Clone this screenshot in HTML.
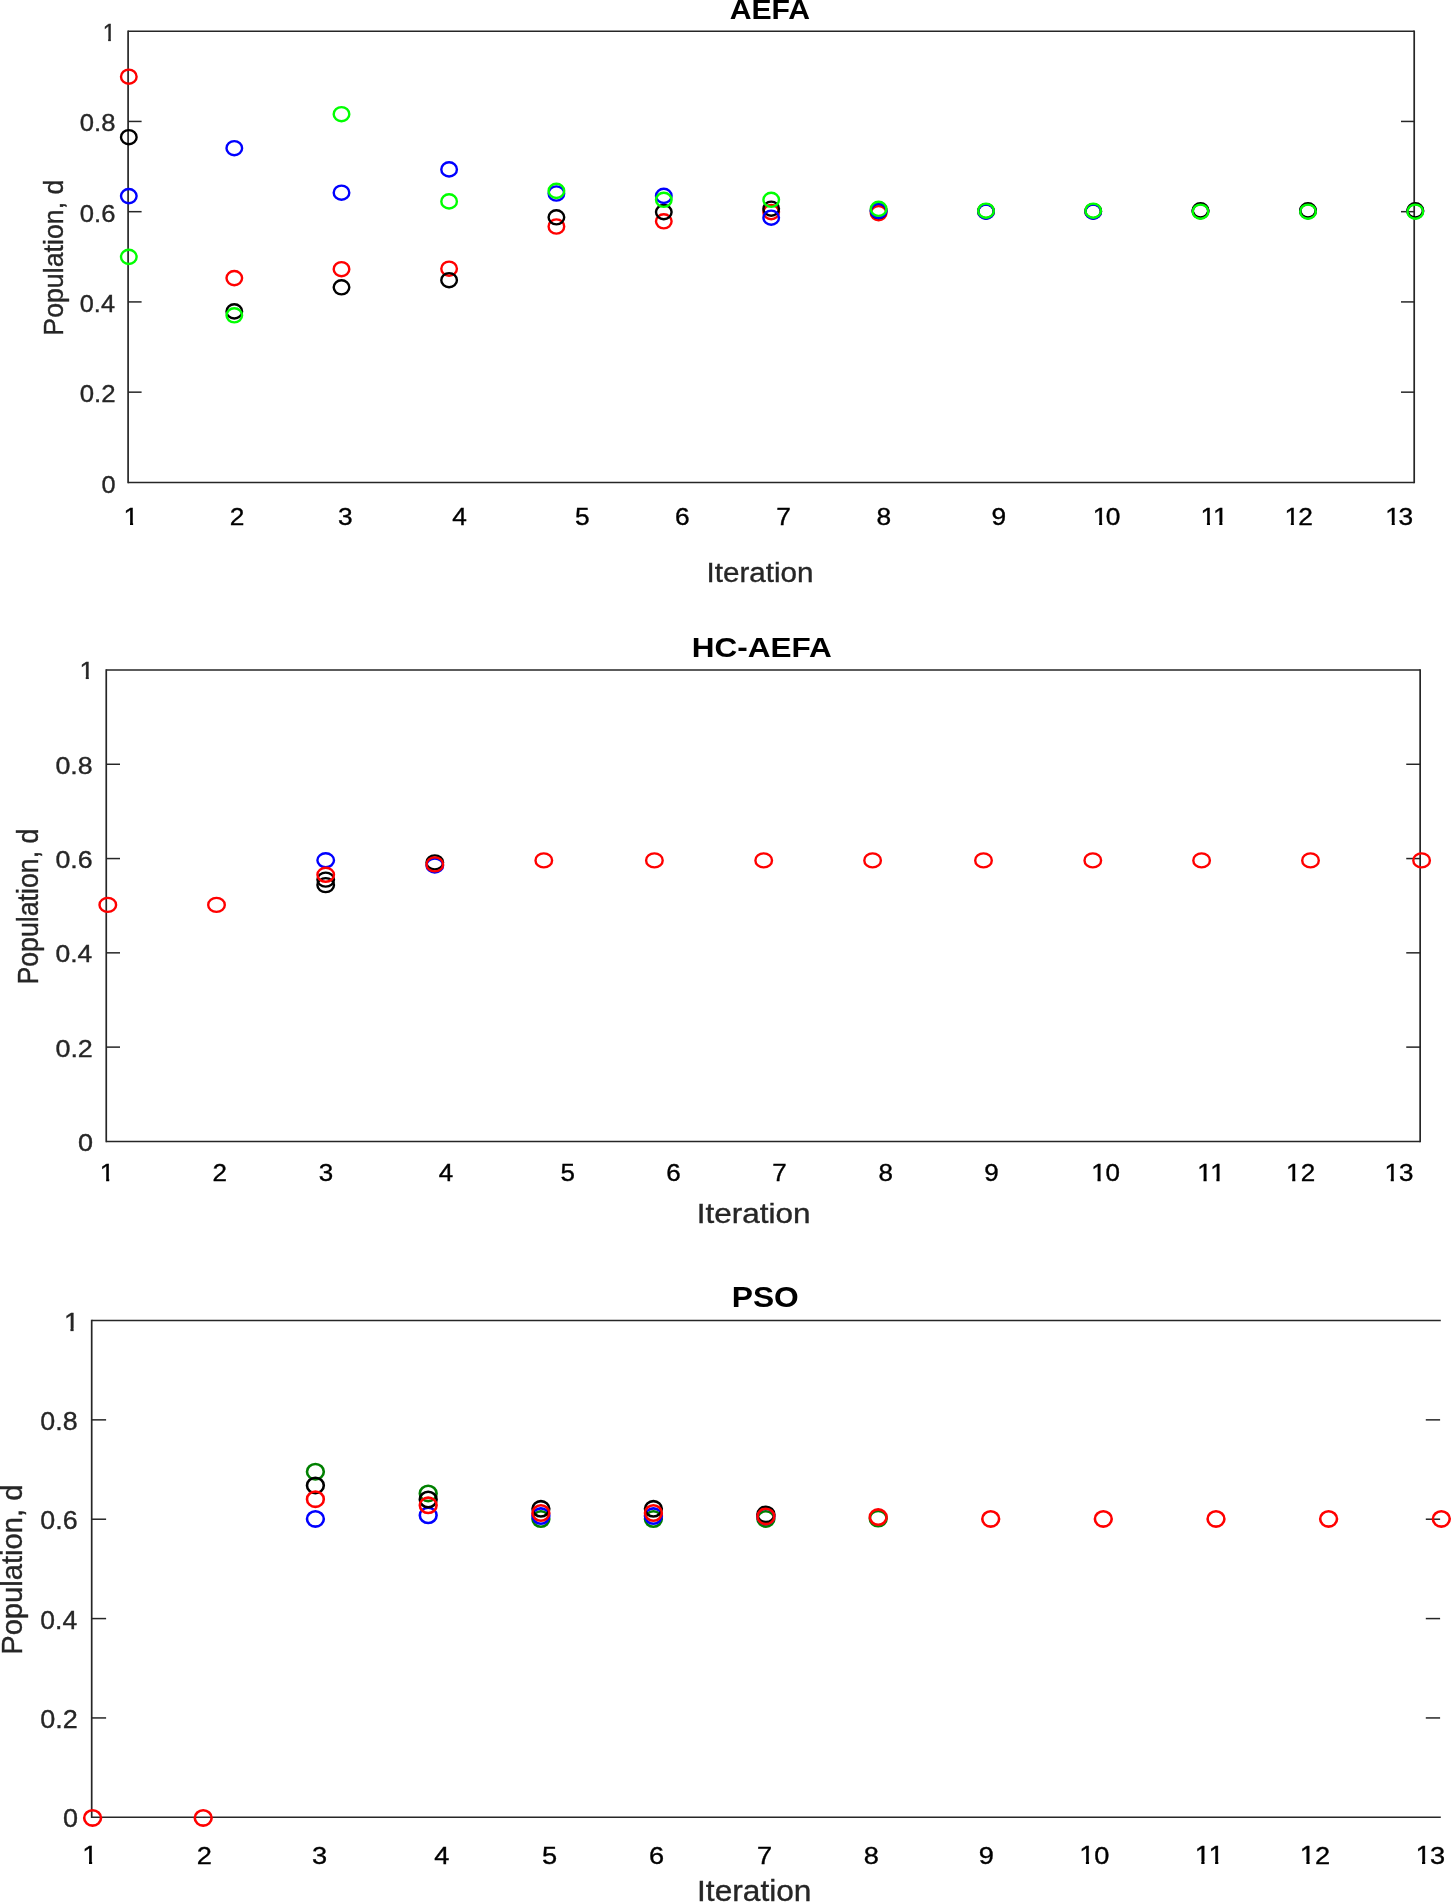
<!DOCTYPE html>
<html><head><meta charset="utf-8"><title>Population convergence</title>
<style>
html,body{margin:0;padding:0;background:#fff;}
body{width:1451px;height:1902px;overflow:hidden;font-family:"Liberation Sans",sans-serif;}
svg{display:block;font-family:"Liberation Sans",sans-serif;}
#wrap{width:1451px;height:1902px;will-change:transform;filter:opacity(1);}
</style></head><body>
<div id="wrap">
<svg width="1451" height="1902" viewBox="0 0 1451 1902">
<rect width="1451" height="1902" fill="#fff"/>
<defs>
<clipPath id="c1_23_28" clipPathUnits="userSpaceOnUse"><rect x="-2" y="-23.28" width="17.97" height="21.01"/><rect x="5.54" y="-2.37" width="2.67" height="2.87"/></clipPath>
<clipPath id="c1_23_97" clipPathUnits="userSpaceOnUse"><rect x="-2" y="-23.97" width="18.38" height="21.65"/><rect x="5.72" y="-2.42" width="2.73" height="2.92"/></clipPath>
<clipPath id="c1_23_46" clipPathUnits="userSpaceOnUse"><rect x="-2" y="-23.46" width="18.08" height="21.18"/><rect x="5.59" y="-2.38" width="2.69" height="2.88"/></clipPath>
<clipPath id="c1_25_98" clipPathUnits="userSpaceOnUse"><rect x="-2" y="-25.98" width="19.59" height="23.51"/><rect x="6.22" y="-2.57" width="2.91" height="3.07"/></clipPath>
<clipPath id="c1_24_99" clipPathUnits="userSpaceOnUse"><rect x="-2" y="-24.99" width="18.99" height="22.59"/><rect x="5.97" y="-2.50" width="2.82" height="3.00"/></clipPath>
</defs>
<g id="plot-aefa" aria-label="AEFA: Population, d versus Iteration">
<line x1="128.10" y1="31.20" x2="1414.20" y2="31.20" stroke="#262626" stroke-width="1.5"/>
<line x1="128.10" y1="482.40" x2="1414.20" y2="482.40" stroke="#262626" stroke-width="1.5"/>
<line x1="128.10" y1="30.45" x2="128.10" y2="483.15" stroke="#262626" stroke-width="1.7"/>
<line x1="1414.20" y1="30.45" x2="1414.20" y2="483.15" stroke="#262626" stroke-width="1.7"/>
<line x1="128.10" y1="121.44" x2="141.60" y2="121.44" stroke="#262626" stroke-width="1.5"/>
<line x1="1401.00" y1="121.44" x2="1414.20" y2="121.44" stroke="#262626" stroke-width="1.5"/>
<line x1="128.10" y1="211.68" x2="141.60" y2="211.68" stroke="#262626" stroke-width="1.5"/>
<line x1="1401.00" y1="211.68" x2="1414.20" y2="211.68" stroke="#262626" stroke-width="1.5"/>
<line x1="128.10" y1="301.92" x2="141.60" y2="301.92" stroke="#262626" stroke-width="1.5"/>
<line x1="1401.00" y1="301.92" x2="1414.20" y2="301.92" stroke="#262626" stroke-width="1.5"/>
<line x1="128.10" y1="392.16" x2="141.60" y2="392.16" stroke="#262626" stroke-width="1.5"/>
<line x1="1401.00" y1="392.16" x2="1414.20" y2="392.16" stroke="#262626" stroke-width="1.5"/>
<text transform="translate(79.78,131.44) scale(1.0676,1)" font-size="24.0" fill="#262626" stroke="#262626" stroke-width="0.35">0.8</text>
<text transform="translate(79.78,221.68) scale(1.0676,1)" font-size="24.0" fill="#262626" stroke="#262626" stroke-width="0.35">0.6</text>
<text transform="translate(79.79,311.92) scale(1.0555,1)" font-size="24.0" fill="#262626" stroke="#262626" stroke-width="0.35">0.4</text>
<text transform="translate(79.77,402.16) scale(1.0737,1)" font-size="24.0" fill="#262626" stroke="#262626" stroke-width="0.35">0.2</text>
<text transform="translate(102.63,40.90) scale(1.0000,1)" font-size="23.28" fill="#262626" stroke="#262626" stroke-width="0.35" clip-path="url(#c1_23_28)">1</text>
<text transform="translate(101.39,492.60) scale(1.0558,1)" font-size="24.0" fill="#262626" stroke="#262626" stroke-width="0.35">0</text>
<text transform="translate(123.62,524.60) scale(1.1200,1)" font-size="23.97" fill="#000" stroke="#000" stroke-width="0.35" clip-path="url(#c1_23_97)">1</text>
<text transform="translate(229.80,524.60) scale(1.1200,1)" font-size="23.5" fill="#000" stroke="#000" stroke-width="0.35">2</text>
<text transform="translate(337.96,524.60) scale(1.1200,1)" font-size="23.5" fill="#000" stroke="#000" stroke-width="0.35">3</text>
<text transform="translate(452.36,524.60) scale(1.1200,1)" font-size="23.5" fill="#000" stroke="#000" stroke-width="0.35">4</text>
<text transform="translate(575.00,524.60) scale(1.1200,1)" font-size="23.5" fill="#000" stroke="#000" stroke-width="0.35">5</text>
<text transform="translate(675.00,524.60) scale(1.1200,1)" font-size="23.5" fill="#000" stroke="#000" stroke-width="0.35">6</text>
<text transform="translate(776.16,524.60) scale(1.1200,1)" font-size="23.5" fill="#000" stroke="#000" stroke-width="0.35">7</text>
<text transform="translate(876.50,524.60) scale(1.1200,1)" font-size="23.5" fill="#000" stroke="#000" stroke-width="0.35">8</text>
<text transform="translate(991.56,524.60) scale(1.1200,1)" font-size="23.5" fill="#000" stroke="#000" stroke-width="0.35">9</text>
<text transform="translate(1092.68,524.60) scale(1.1200,1)" font-size="23.97" fill="#000" stroke="#000" stroke-width="0.35" clip-path="url(#c1_23_97)">1</text>
<text transform="translate(1105.73,524.60) scale(1.1200,1)" font-size="23.5" fill="#000" stroke="#000" stroke-width="0.35">0</text>
<text transform="translate(1200.52,524.60) scale(1.1200,1)" font-size="23.97" fill="#000" stroke="#000" stroke-width="0.35" clip-path="url(#c1_23_97)">1</text>
<text transform="translate(1212.92,524.60) scale(1.1200,1)" font-size="23.97" fill="#000" stroke="#000" stroke-width="0.35" clip-path="url(#c1_23_97)">1</text>
<text transform="translate(1284.42,524.60) scale(1.1200,1)" font-size="23.97" fill="#000" stroke="#000" stroke-width="0.35" clip-path="url(#c1_23_97)">1</text>
<text transform="translate(1298.16,524.60) scale(1.1200,1)" font-size="23.5" fill="#000" stroke="#000" stroke-width="0.35">2</text>
<text transform="translate(1385.32,524.60) scale(1.1200,1)" font-size="23.97" fill="#000" stroke="#000" stroke-width="0.35" clip-path="url(#c1_23_97)">1</text>
<text transform="translate(1398.56,524.60) scale(1.1200,1)" font-size="23.5" fill="#000" stroke="#000" stroke-width="0.35">3</text>
<text transform="translate(706.56,582.10) scale(1.0886,1)" font-size="27.2" fill="#262626" stroke="#262626" stroke-width="0.35">Iteration</text>
<text transform="translate(729.65,18.60) scale(1.1093,1)" font-size="27.2" font-weight="bold" fill="#000" stroke="#000" stroke-width="0">AEFA</text>
<text transform="translate(63.10,333.50) scale(1.035,1) rotate(-90)" x="-2.21" y="0" font-size="26.74" fill="#262626" stroke="#262626" stroke-width="0.35">Population, d</text>
<ellipse cx="128.8" cy="76.7" rx="7.8" ry="7.1" fill="none" stroke="#ff0000" stroke-width="2.4"/>
<ellipse cx="128.8" cy="137.2" rx="7.8" ry="7.1" fill="none" stroke="#000000" stroke-width="2.4"/>
<ellipse cx="128.8" cy="196.1" rx="7.8" ry="7.1" fill="none" stroke="#0000ff" stroke-width="2.4"/>
<ellipse cx="128.8" cy="256.9" rx="7.8" ry="7.1" fill="none" stroke="#00ff00" stroke-width="2.4"/>
<ellipse cx="234.3" cy="278.1" rx="7.8" ry="7.1" fill="none" stroke="#ff0000" stroke-width="2.4"/>
<ellipse cx="234.3" cy="311.4" rx="7.8" ry="7.1" fill="none" stroke="#000000" stroke-width="2.4"/>
<ellipse cx="234.3" cy="148.2" rx="7.8" ry="7.1" fill="none" stroke="#0000ff" stroke-width="2.4"/>
<ellipse cx="234.3" cy="315.3" rx="7.8" ry="7.1" fill="none" stroke="#00ff00" stroke-width="2.4"/>
<ellipse cx="341.5" cy="269.2" rx="7.8" ry="7.1" fill="none" stroke="#ff0000" stroke-width="2.4"/>
<ellipse cx="341.5" cy="287.3" rx="7.8" ry="7.1" fill="none" stroke="#000000" stroke-width="2.4"/>
<ellipse cx="341.5" cy="192.7" rx="7.8" ry="7.1" fill="none" stroke="#0000ff" stroke-width="2.4"/>
<ellipse cx="341.5" cy="114.2" rx="7.8" ry="7.1" fill="none" stroke="#00ff00" stroke-width="2.4"/>
<ellipse cx="449.1" cy="268.7" rx="7.8" ry="7.1" fill="none" stroke="#ff0000" stroke-width="2.4"/>
<ellipse cx="449.1" cy="280.2" rx="7.8" ry="7.1" fill="none" stroke="#000000" stroke-width="2.4"/>
<ellipse cx="449.1" cy="169.4" rx="7.8" ry="7.1" fill="none" stroke="#0000ff" stroke-width="2.4"/>
<ellipse cx="449.1" cy="201.4" rx="7.8" ry="7.1" fill="none" stroke="#00ff00" stroke-width="2.4"/>
<ellipse cx="556.4" cy="226.5" rx="7.8" ry="7.1" fill="none" stroke="#ff0000" stroke-width="2.4"/>
<ellipse cx="556.4" cy="217.3" rx="7.8" ry="7.1" fill="none" stroke="#000000" stroke-width="2.4"/>
<ellipse cx="556.4" cy="193.5" rx="7.8" ry="7.1" fill="none" stroke="#0000ff" stroke-width="2.4"/>
<ellipse cx="556.4" cy="190.9" rx="7.8" ry="7.1" fill="none" stroke="#00ff00" stroke-width="2.4"/>
<ellipse cx="663.8" cy="221.3" rx="7.8" ry="7.1" fill="none" stroke="#ff0000" stroke-width="2.4"/>
<ellipse cx="663.8" cy="212.1" rx="7.8" ry="7.1" fill="none" stroke="#000000" stroke-width="2.4"/>
<ellipse cx="663.8" cy="195.9" rx="7.8" ry="7.1" fill="none" stroke="#0000ff" stroke-width="2.4"/>
<ellipse cx="663.8" cy="199.8" rx="7.8" ry="7.1" fill="none" stroke="#00ff00" stroke-width="2.4"/>
<ellipse cx="771.2" cy="212.1" rx="7.8" ry="7.1" fill="none" stroke="#ff0000" stroke-width="2.4"/>
<ellipse cx="771.2" cy="208.7" rx="7.8" ry="7.1" fill="none" stroke="#000000" stroke-width="2.4"/>
<ellipse cx="771.2" cy="217.7" rx="7.8" ry="7.1" fill="none" stroke="#0000ff" stroke-width="2.4"/>
<ellipse cx="771.2" cy="199.8" rx="7.8" ry="7.1" fill="none" stroke="#00ff00" stroke-width="2.4"/>
<ellipse cx="878.6" cy="213.2" rx="7.8" ry="7.1" fill="none" stroke="#ff0000" stroke-width="2.4"/>
<ellipse cx="878.6" cy="211.0" rx="7.8" ry="7.1" fill="none" stroke="#000000" stroke-width="2.4"/>
<ellipse cx="878.6" cy="210.9" rx="7.8" ry="7.1" fill="none" stroke="#0000ff" stroke-width="2.4"/>
<ellipse cx="878.6" cy="208.8" rx="7.8" ry="7.1" fill="none" stroke="#00ff00" stroke-width="2.4"/>
<ellipse cx="986.0" cy="211.4" rx="7.8" ry="7.1" fill="none" stroke="#ff0000" stroke-width="2.4"/>
<ellipse cx="986.0" cy="211.2" rx="7.8" ry="7.1" fill="none" stroke="#000000" stroke-width="2.4"/>
<ellipse cx="986.0" cy="211.6" rx="7.8" ry="7.1" fill="none" stroke="#0000ff" stroke-width="2.4"/>
<ellipse cx="986.0" cy="210.7" rx="7.8" ry="7.1" fill="none" stroke="#00ff00" stroke-width="2.4"/>
<ellipse cx="1093.2" cy="211.4" rx="7.8" ry="7.1" fill="none" stroke="#ff0000" stroke-width="2.4"/>
<ellipse cx="1093.2" cy="211.2" rx="7.8" ry="7.1" fill="none" stroke="#000000" stroke-width="2.4"/>
<ellipse cx="1093.2" cy="211.6" rx="7.8" ry="7.1" fill="none" stroke="#0000ff" stroke-width="2.4"/>
<ellipse cx="1093.2" cy="210.7" rx="7.8" ry="7.1" fill="none" stroke="#00ff00" stroke-width="2.4"/>
<ellipse cx="1200.5" cy="211.2" rx="7.8" ry="7.1" fill="none" stroke="#ff0000" stroke-width="2.4"/>
<ellipse cx="1200.5" cy="211.2" rx="7.8" ry="7.1" fill="none" stroke="#0000ff" stroke-width="2.4"/>
<ellipse cx="1200.5" cy="210.3" rx="7.8" ry="7.1" fill="none" stroke="#000000" stroke-width="2.4"/>
<ellipse cx="1200.5" cy="211.7" rx="7.8" ry="7.1" fill="none" stroke="#00ff00" stroke-width="2.4"/>
<ellipse cx="1308.0" cy="211.2" rx="7.8" ry="7.1" fill="none" stroke="#ff0000" stroke-width="2.4"/>
<ellipse cx="1308.0" cy="211.2" rx="7.8" ry="7.1" fill="none" stroke="#0000ff" stroke-width="2.4"/>
<ellipse cx="1308.0" cy="210.3" rx="7.8" ry="7.1" fill="none" stroke="#000000" stroke-width="2.4"/>
<ellipse cx="1308.0" cy="211.7" rx="7.8" ry="7.1" fill="none" stroke="#00ff00" stroke-width="2.4"/>
<ellipse cx="1415.3" cy="211.2" rx="7.8" ry="7.1" fill="none" stroke="#ff0000" stroke-width="2.4"/>
<ellipse cx="1415.3" cy="211.2" rx="7.8" ry="7.1" fill="none" stroke="#0000ff" stroke-width="2.4"/>
<ellipse cx="1415.3" cy="210.3" rx="7.8" ry="7.1" fill="none" stroke="#000000" stroke-width="2.4"/>
<ellipse cx="1415.3" cy="211.7" rx="7.8" ry="7.1" fill="none" stroke="#00ff00" stroke-width="2.4"/>
</g>
<g id="plot-hc-aefa" aria-label="HC-AEFA: Population, d versus Iteration">
<line x1="106.25" y1="670.00" x2="1420.15" y2="670.00" stroke="#262626" stroke-width="1.5"/>
<line x1="106.25" y1="1141.40" x2="1420.15" y2="1141.40" stroke="#262626" stroke-width="1.5"/>
<line x1="106.25" y1="669.25" x2="106.25" y2="1142.15" stroke="#262626" stroke-width="1.7"/>
<line x1="1420.15" y1="669.25" x2="1420.15" y2="1142.15" stroke="#262626" stroke-width="1.7"/>
<line x1="106.25" y1="764.28" x2="120.00" y2="764.28" stroke="#262626" stroke-width="1.5"/>
<line x1="1406.25" y1="764.28" x2="1420.15" y2="764.28" stroke="#262626" stroke-width="1.5"/>
<line x1="106.25" y1="858.56" x2="120.00" y2="858.56" stroke="#262626" stroke-width="1.5"/>
<line x1="1406.25" y1="858.56" x2="1420.15" y2="858.56" stroke="#262626" stroke-width="1.5"/>
<line x1="106.25" y1="952.84" x2="120.00" y2="952.84" stroke="#262626" stroke-width="1.5"/>
<line x1="1406.25" y1="952.84" x2="1420.15" y2="952.84" stroke="#262626" stroke-width="1.5"/>
<line x1="106.25" y1="1047.12" x2="120.00" y2="1047.12" stroke="#262626" stroke-width="1.5"/>
<line x1="1406.25" y1="1047.12" x2="1420.15" y2="1047.12" stroke="#262626" stroke-width="1.5"/>
<text transform="translate(55.43,773.68) scale(1.1639,1)" font-size="23.0" fill="#262626" stroke="#262626" stroke-width="0.35">0.8</text>
<text transform="translate(55.43,867.96) scale(1.1639,1)" font-size="23.0" fill="#262626" stroke="#262626" stroke-width="0.35">0.6</text>
<text transform="translate(55.44,962.24) scale(1.1507,1)" font-size="23.0" fill="#262626" stroke="#262626" stroke-width="0.35">0.4</text>
<text transform="translate(55.42,1056.52) scale(1.1706,1)" font-size="23.0" fill="#262626" stroke="#262626" stroke-width="0.35">0.2</text>
<text transform="translate(79.52,678.80) scale(1.1200,1)" font-size="23.46" fill="#262626" stroke="#262626" stroke-width="0.35" clip-path="url(#c1_23_46)">1</text>
<text transform="translate(78.02,1150.80) scale(1.1746,1)" font-size="23.0" fill="#262626" stroke="#262626" stroke-width="0.35">0</text>
<text transform="translate(99.84,1181.40) scale(1.1300,1)" font-size="23.46" fill="#000" stroke="#000" stroke-width="0.35" clip-path="url(#c1_23_46)">1</text>
<text transform="translate(212.49,1181.40) scale(1.1300,1)" font-size="23.0" fill="#000" stroke="#000" stroke-width="0.35">2</text>
<text transform="translate(318.85,1181.40) scale(1.1300,1)" font-size="23.0" fill="#000" stroke="#000" stroke-width="0.35">3</text>
<text transform="translate(438.75,1181.40) scale(1.1300,1)" font-size="23.0" fill="#000" stroke="#000" stroke-width="0.35">4</text>
<text transform="translate(560.49,1181.40) scale(1.1300,1)" font-size="23.0" fill="#000" stroke="#000" stroke-width="0.35">5</text>
<text transform="translate(666.19,1181.40) scale(1.1300,1)" font-size="23.0" fill="#000" stroke="#000" stroke-width="0.35">6</text>
<text transform="translate(772.36,1181.40) scale(1.1300,1)" font-size="23.0" fill="#000" stroke="#000" stroke-width="0.35">7</text>
<text transform="translate(878.39,1181.40) scale(1.1300,1)" font-size="23.0" fill="#000" stroke="#000" stroke-width="0.35">8</text>
<text transform="translate(984.36,1181.40) scale(1.1300,1)" font-size="23.0" fill="#000" stroke="#000" stroke-width="0.35">9</text>
<text transform="translate(1091.24,1181.40) scale(1.1300,1)" font-size="23.46" fill="#000" stroke="#000" stroke-width="0.35" clip-path="url(#c1_23_46)">1</text>
<text transform="translate(1105.40,1181.40) scale(1.1300,1)" font-size="23.0" fill="#000" stroke="#000" stroke-width="0.35">0</text>
<text transform="translate(1197.24,1181.40) scale(1.1300,1)" font-size="23.46" fill="#000" stroke="#000" stroke-width="0.35" clip-path="url(#c1_23_46)">1</text>
<text transform="translate(1210.14,1181.40) scale(1.1300,1)" font-size="23.46" fill="#000" stroke="#000" stroke-width="0.35" clip-path="url(#c1_23_46)">1</text>
<text transform="translate(1285.94,1181.40) scale(1.1300,1)" font-size="23.46" fill="#000" stroke="#000" stroke-width="0.35" clip-path="url(#c1_23_46)">1</text>
<text transform="translate(1300.73,1181.40) scale(1.1300,1)" font-size="23.0" fill="#000" stroke="#000" stroke-width="0.35">2</text>
<text transform="translate(1384.44,1181.40) scale(1.1300,1)" font-size="23.46" fill="#000" stroke="#000" stroke-width="0.35" clip-path="url(#c1_23_46)">1</text>
<text transform="translate(1398.93,1181.40) scale(1.1300,1)" font-size="23.0" fill="#000" stroke="#000" stroke-width="0.35">3</text>
<text transform="translate(696.78,1223.40) scale(1.1420,1)" font-size="27.6" fill="#262626" stroke="#262626" stroke-width="0.35">Iteration</text>
<text transform="translate(691.67,657.20) scale(1.1587,1)" font-size="27.2" font-weight="bold" fill="#000" stroke="#000" stroke-width="0">HC-AEFA</text>
<text transform="translate(38.10,982.40) scale(1.1,1) rotate(-90)" x="-2.20" y="0" font-size="26.72" fill="#262626" stroke="#262626" stroke-width="0.35">Population, d</text>
<ellipse cx="107.8" cy="904.9" rx="8.3" ry="7.0" fill="none" stroke="#ff0000" stroke-width="2.4"/>
<ellipse cx="216.5" cy="904.9" rx="8.3" ry="7.0" fill="none" stroke="#ff0000" stroke-width="2.4"/>
<ellipse cx="325.7" cy="885.1" rx="8.3" ry="7.0" fill="none" stroke="#000000" stroke-width="2.4"/>
<ellipse cx="325.7" cy="879.6" rx="8.3" ry="7.0" fill="none" stroke="#000000" stroke-width="2.4"/>
<ellipse cx="325.7" cy="860.3" rx="8.3" ry="7.0" fill="none" stroke="#0000ff" stroke-width="2.4"/>
<ellipse cx="325.7" cy="874.8" rx="8.3" ry="7.0" fill="none" stroke="#ff0000" stroke-width="2.4"/>
<ellipse cx="434.8" cy="862.4" rx="8.3" ry="7.0" fill="none" stroke="#000000" stroke-width="2.4"/>
<ellipse cx="434.8" cy="865.5" rx="8.3" ry="7.0" fill="none" stroke="#0000ff" stroke-width="2.4"/>
<ellipse cx="434.8" cy="864.4" rx="8.3" ry="7.0" fill="none" stroke="#ff0000" stroke-width="2.4"/>
<ellipse cx="543.8" cy="860.4" rx="8.3" ry="7.0" fill="none" stroke="#ff0000" stroke-width="2.4"/>
<ellipse cx="654.4" cy="860.4" rx="8.3" ry="7.0" fill="none" stroke="#ff0000" stroke-width="2.4"/>
<ellipse cx="763.7" cy="860.4" rx="8.3" ry="7.0" fill="none" stroke="#ff0000" stroke-width="2.4"/>
<ellipse cx="872.6" cy="860.4" rx="8.3" ry="7.0" fill="none" stroke="#ff0000" stroke-width="2.4"/>
<ellipse cx="983.5" cy="860.4" rx="8.3" ry="7.0" fill="none" stroke="#ff0000" stroke-width="2.4"/>
<ellipse cx="1092.8" cy="860.4" rx="8.3" ry="7.0" fill="none" stroke="#ff0000" stroke-width="2.4"/>
<ellipse cx="1201.6" cy="860.4" rx="8.3" ry="7.0" fill="none" stroke="#ff0000" stroke-width="2.4"/>
<ellipse cx="1310.5" cy="860.4" rx="8.3" ry="7.0" fill="none" stroke="#ff0000" stroke-width="2.4"/>
<ellipse cx="1421.6" cy="860.4" rx="8.3" ry="7.0" fill="none" stroke="#ff0000" stroke-width="2.4"/>
</g>
<g id="plot-pso" aria-label="PSO: Population, d versus Iteration">
<line x1="91.70" y1="1320.50" x2="1440.80" y2="1320.50" stroke="#262626" stroke-width="1.5"/>
<line x1="91.70" y1="1817.30" x2="1440.80" y2="1817.30" stroke="#262626" stroke-width="1.5"/>
<line x1="91.70" y1="1319.75" x2="91.70" y2="1818.05" stroke="#262626" stroke-width="1.7"/>
<line x1="91.70" y1="1419.86" x2="106.10" y2="1419.86" stroke="#262626" stroke-width="1.5"/>
<line x1="1425.80" y1="1419.86" x2="1440.10" y2="1419.86" stroke="#262626" stroke-width="1.5"/>
<line x1="91.70" y1="1519.22" x2="106.10" y2="1519.22" stroke="#262626" stroke-width="1.5"/>
<line x1="1425.80" y1="1519.22" x2="1440.10" y2="1519.22" stroke="#262626" stroke-width="1.5"/>
<line x1="91.70" y1="1618.58" x2="106.10" y2="1618.58" stroke="#262626" stroke-width="1.5"/>
<line x1="1425.80" y1="1618.58" x2="1440.10" y2="1618.58" stroke="#262626" stroke-width="1.5"/>
<line x1="91.70" y1="1717.94" x2="106.10" y2="1717.94" stroke="#262626" stroke-width="1.5"/>
<line x1="1425.80" y1="1717.94" x2="1440.10" y2="1717.94" stroke="#262626" stroke-width="1.5"/>
<text transform="translate(40.33,1429.91) scale(1.0486,1)" font-size="25.6" fill="#262626" stroke="#262626" stroke-width="0.35">0.8</text>
<text transform="translate(40.33,1529.27) scale(1.0486,1)" font-size="25.6" fill="#262626" stroke="#262626" stroke-width="0.35">0.6</text>
<text transform="translate(40.34,1628.63) scale(1.0367,1)" font-size="25.6" fill="#262626" stroke="#262626" stroke-width="0.35">0.4</text>
<text transform="translate(40.32,1727.99) scale(1.0547,1)" font-size="25.6" fill="#262626" stroke="#262626" stroke-width="0.35">0.2</text>
<text transform="translate(63.89,1331.00) scale(1.0600,1)" font-size="25.98" fill="#262626" stroke="#262626" stroke-width="0.35" clip-path="url(#c1_25_98)">1</text>
<text transform="translate(63.02,1827.20) scale(1.0553,1)" font-size="25.6" fill="#262626" stroke="#262626" stroke-width="0.35">0</text>
<text transform="translate(82.37,1863.60) scale(1.1100,1)" font-size="24.99" fill="#000" stroke="#000" stroke-width="0.35" clip-path="url(#c1_24_99)">1</text>
<text transform="translate(196.85,1863.60) scale(1.1100,1)" font-size="24.5" fill="#000" stroke="#000" stroke-width="0.35">2</text>
<text transform="translate(311.92,1863.60) scale(1.1100,1)" font-size="24.5" fill="#000" stroke="#000" stroke-width="0.35">3</text>
<text transform="translate(434.22,1863.60) scale(1.1100,1)" font-size="24.5" fill="#000" stroke="#000" stroke-width="0.35">4</text>
<text transform="translate(542.05,1863.60) scale(1.1100,1)" font-size="24.5" fill="#000" stroke="#000" stroke-width="0.35">5</text>
<text transform="translate(649.05,1863.60) scale(1.1100,1)" font-size="24.5" fill="#000" stroke="#000" stroke-width="0.35">6</text>
<text transform="translate(757.12,1863.60) scale(1.1100,1)" font-size="24.5" fill="#000" stroke="#000" stroke-width="0.35">7</text>
<text transform="translate(863.85,1863.60) scale(1.1100,1)" font-size="24.5" fill="#000" stroke="#000" stroke-width="0.35">8</text>
<text transform="translate(978.72,1863.60) scale(1.1100,1)" font-size="24.5" fill="#000" stroke="#000" stroke-width="0.35">9</text>
<text transform="translate(1079.28,1863.60) scale(1.1100,1)" font-size="24.99" fill="#000" stroke="#000" stroke-width="0.35" clip-path="url(#c1_24_99)">1</text>
<text transform="translate(1094.28,1863.60) scale(1.1100,1)" font-size="24.5" fill="#000" stroke="#000" stroke-width="0.35">0</text>
<text transform="translate(1194.72,1863.60) scale(1.1100,1)" font-size="24.99" fill="#000" stroke="#000" stroke-width="0.35" clip-path="url(#c1_24_99)">1</text>
<text transform="translate(1208.52,1863.60) scale(1.1100,1)" font-size="24.99" fill="#000" stroke="#000" stroke-width="0.35" clip-path="url(#c1_24_99)">1</text>
<text transform="translate(1299.82,1863.60) scale(1.1100,1)" font-size="24.99" fill="#000" stroke="#000" stroke-width="0.35" clip-path="url(#c1_24_99)">1</text>
<text transform="translate(1314.92,1863.60) scale(1.1100,1)" font-size="24.5" fill="#000" stroke="#000" stroke-width="0.35">2</text>
<text transform="translate(1415.42,1863.60) scale(1.1100,1)" font-size="24.99" fill="#000" stroke="#000" stroke-width="0.35" clip-path="url(#c1_24_99)">1</text>
<text transform="translate(1430.01,1863.60) scale(1.1100,1)" font-size="24.5" fill="#000" stroke="#000" stroke-width="0.35">3</text>
<text transform="translate(697.07,1900.90) scale(1.0919,1)" font-size="29.0" fill="#262626" stroke="#262626" stroke-width="0.35">Iteration</text>
<text transform="translate(731.76,1306.50) scale(1.0840,1)" font-size="29.3" font-weight="bold" fill="#000" stroke="#000" stroke-width="0">PSO</text>
<text transform="translate(22.20,1652.40) scale(1.01,1) rotate(-90)" x="-2.41" y="0" font-size="29.18" fill="#262626" stroke="#262626" stroke-width="0.35">Population, d</text>
<ellipse cx="92.6" cy="1817.9" rx="8.4" ry="7.7" fill="none" stroke="#ff0000" stroke-width="2.6"/>
<ellipse cx="203.2" cy="1817.9" rx="8.4" ry="7.7" fill="none" stroke="#ff0000" stroke-width="2.6"/>
<ellipse cx="315.4" cy="1471.7" rx="8.4" ry="7.7" fill="none" stroke="#008000" stroke-width="2.6"/>
<ellipse cx="315.4" cy="1518.9" rx="8.4" ry="7.7" fill="none" stroke="#0000ff" stroke-width="2.6"/>
<ellipse cx="315.4" cy="1485.4" rx="8.4" ry="7.7" fill="none" stroke="#000000" stroke-width="2.6"/>
<ellipse cx="315.4" cy="1499.2" rx="8.4" ry="7.7" fill="none" stroke="#ff0000" stroke-width="2.6"/>
<ellipse cx="428.2" cy="1493.4" rx="8.4" ry="7.7" fill="none" stroke="#008000" stroke-width="2.6"/>
<ellipse cx="428.2" cy="1515.3" rx="8.4" ry="7.7" fill="none" stroke="#0000ff" stroke-width="2.6"/>
<ellipse cx="428.2" cy="1499.5" rx="8.4" ry="7.7" fill="none" stroke="#000000" stroke-width="2.6"/>
<ellipse cx="428.2" cy="1505.3" rx="8.4" ry="7.7" fill="none" stroke="#ff0000" stroke-width="2.6"/>
<ellipse cx="540.9" cy="1519.0" rx="8.4" ry="7.7" fill="none" stroke="#008000" stroke-width="2.6"/>
<ellipse cx="540.9" cy="1516.1" rx="8.4" ry="7.7" fill="none" stroke="#0000ff" stroke-width="2.6"/>
<ellipse cx="540.9" cy="1508.8" rx="8.4" ry="7.7" fill="none" stroke="#000000" stroke-width="2.6"/>
<ellipse cx="540.9" cy="1513.0" rx="8.4" ry="7.7" fill="none" stroke="#ff0000" stroke-width="2.6"/>
<ellipse cx="653.4" cy="1519.0" rx="8.4" ry="7.7" fill="none" stroke="#008000" stroke-width="2.6"/>
<ellipse cx="653.4" cy="1516.1" rx="8.4" ry="7.7" fill="none" stroke="#0000ff" stroke-width="2.6"/>
<ellipse cx="653.4" cy="1508.8" rx="8.4" ry="7.7" fill="none" stroke="#000000" stroke-width="2.6"/>
<ellipse cx="653.4" cy="1513.0" rx="8.4" ry="7.7" fill="none" stroke="#ff0000" stroke-width="2.6"/>
<ellipse cx="765.9" cy="1518.9" rx="8.4" ry="7.7" fill="none" stroke="#008000" stroke-width="2.6"/>
<ellipse cx="765.9" cy="1516.4" rx="8.4" ry="7.7" fill="none" stroke="#0000ff" stroke-width="2.6"/>
<ellipse cx="765.9" cy="1514.4" rx="8.4" ry="7.7" fill="none" stroke="#000000" stroke-width="2.6"/>
<ellipse cx="765.9" cy="1516.4" rx="8.4" ry="7.7" fill="none" stroke="#ff0000" stroke-width="2.6"/>
<ellipse cx="878.2" cy="1518.6" rx="8.4" ry="7.7" fill="none" stroke="#008000" stroke-width="2.6"/>
<ellipse cx="878.2" cy="1517.1" rx="8.4" ry="7.7" fill="none" stroke="#ff0000" stroke-width="2.6"/>
<ellipse cx="990.7" cy="1518.9" rx="8.4" ry="7.7" fill="none" stroke="#ff0000" stroke-width="2.6"/>
<ellipse cx="1103.3" cy="1518.9" rx="8.4" ry="7.7" fill="none" stroke="#ff0000" stroke-width="2.6"/>
<ellipse cx="1216.0" cy="1518.9" rx="8.4" ry="7.7" fill="none" stroke="#ff0000" stroke-width="2.6"/>
<ellipse cx="1328.6" cy="1518.9" rx="8.4" ry="7.7" fill="none" stroke="#ff0000" stroke-width="2.6"/>
<ellipse cx="1441.3" cy="1518.9" rx="8.4" ry="7.7" fill="none" stroke="#ff0000" stroke-width="2.6"/>
</g>
</svg>
</div>
</body></html>
